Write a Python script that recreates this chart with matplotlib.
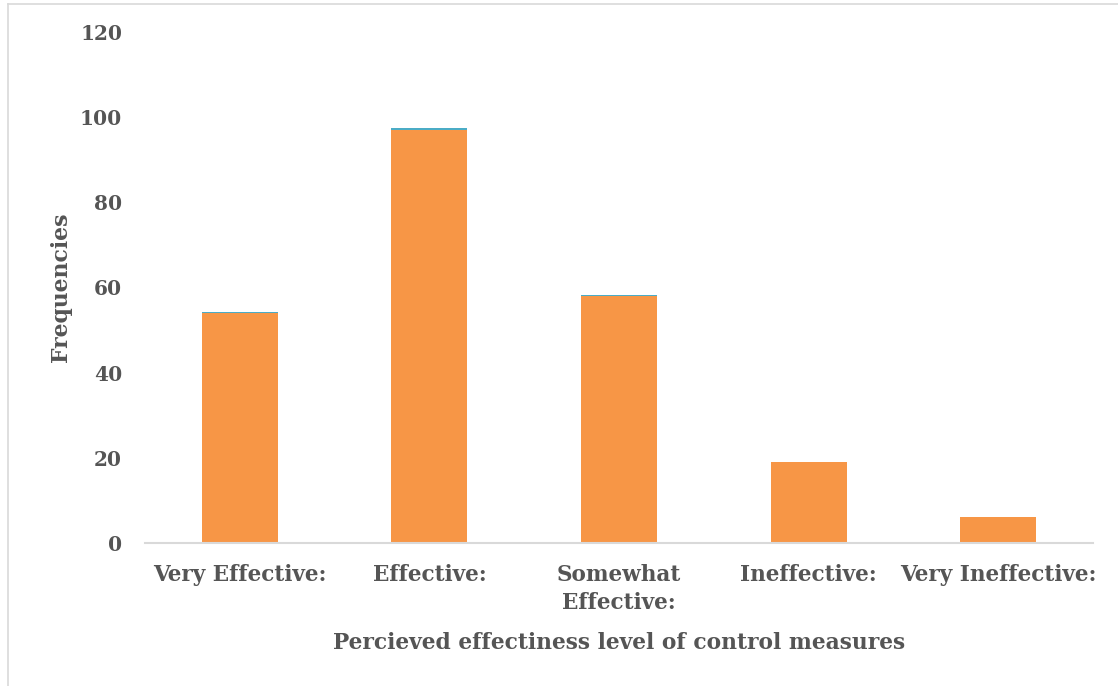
import matplotlib
matplotlib.use("Agg")
import matplotlib.pyplot as plt
from matplotlib.lines import Line2D
import numpy as np

categories = ["Very Effective:", "Effective:", "Somewhat\nEffective:", "Ineffective:", "Very Ineffective:"]
frequencies = [54, 97, 58, 19, 6]
proportions = [0.23, 0.41, 0.25, 0.08, 0.03]
y_ticks = [0, 20, 40, 60, 80, 100, 120]

text_color = "#555555"
plt.rcParams["font.family"] = ["DejaVu Serif"]
plt.rcParams["font.weight"] = "bold"

fig = plt.figure(figsize=(11.18, 6.86), dpi=100)
ax = fig.add_axes([145 / 1118, 1 - 543 / 686, 948 / 1118, 511 / 686])

x = np.arange(len(categories))
ax.bar(x, frequencies, width=0.4, color="#F79646", zorder=2)
ax.bar(x, proportions, width=0.4, bottom=frequencies, color="#4BACC6", zorder=2)

ax.set_xlim(-0.5, len(categories) - 0.5)
ax.set_ylim(0, 120)
ax.set_yticks(y_ticks)
ax.set_xticks(x)
ax.set_xticklabels(categories, fontsize=15.5, color=text_color, fontweight="bold",
                   linespacing=1.35, va="top")
ax.tick_params(axis="y", labelsize=14.5, colors=text_color, length=0, pad=16.5)
ax.tick_params(axis="x", length=0, pad=15)
for lab in ax.get_yticklabels():
    lab.set_fontweight("bold")

for side in ["top", "right", "left"]:
    ax.spines[side].set_visible(False)
ax.spines["bottom"].set_color("#D9D9D9")
ax.spines["bottom"].set_linewidth(1.5)

ax.set_ylabel("Frequencies", fontsize=15.8, color=text_color, fontweight="bold")
ax.yaxis.set_label_coords(-0.077, 0.5)
ax.set_xlabel("Percieved effectiness level of control measures", fontsize=15.7,
              color=text_color, fontweight="bold", labelpad=13)

# light frame along the top and left edges
fig.add_artist(Line2D([8 / 1118, 1.0], [1 - 4 / 686, 1 - 4 / 686], color="#D9D9D9", lw=1.2,
                      transform=fig.transFigure))
fig.add_artist(Line2D([8 / 1118, 8 / 1118], [0, 1 - 4 / 686], color="#D9D9D9", lw=1.2,
                      transform=fig.transFigure))

fig.savefig("out.png", dpi=100)
